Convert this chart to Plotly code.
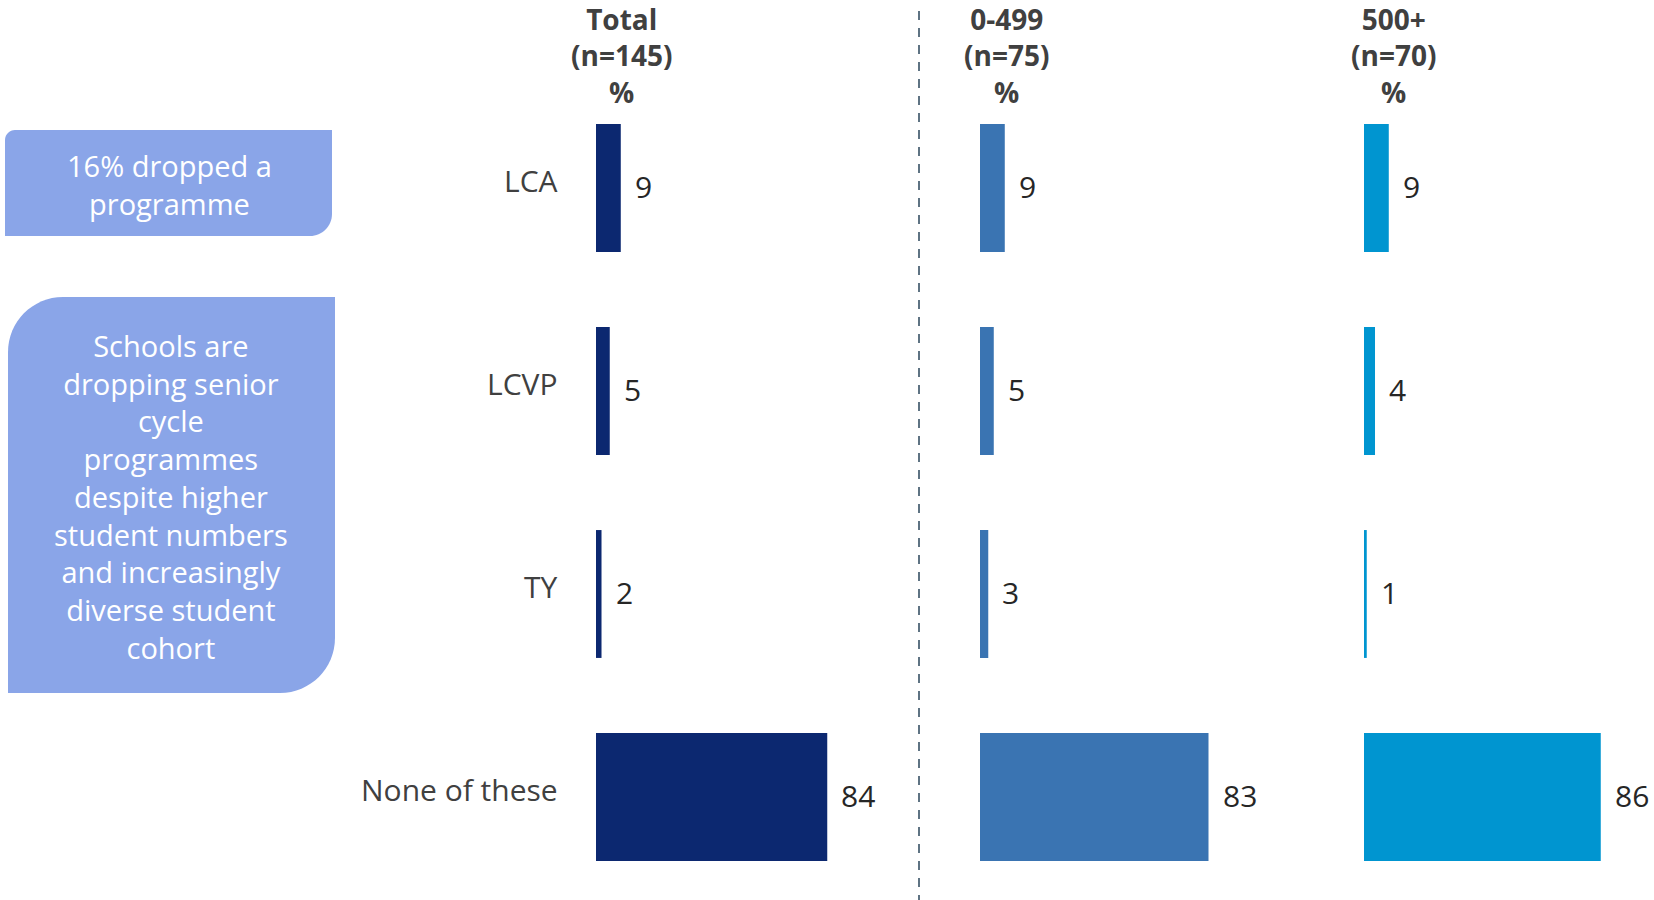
import plotly.graph_objects as go

# ---------------- data ----------------
categories = ["LCA", "LCVP", "TY", "None of these"]
total_vals = [9, 5, 2, 84]
small_vals = [9, 5, 3, 83]
large_vals = [9, 4, 1, 86]
panel_titles = ["Total<br>(n=145)<br>%", "0-499<br>(n=75)<br>%", "500+<br>(n=70)<br>%"]
box1_text = "16% dropped a<br>programme"
box2_text = ("Schools are<br>dropping senior<br>cycle<br>programmes<br>despite higher"
             "<br>student numbers<br>and increasingly<br>diverse student<br>cohort")

W, H = 1654, 900
FONT = "Open Sans"


def px(x):
    return x / W


def py(y):
    return 1 - y / H


series = [total_vals, small_vals, large_vals]
colors = ["#0c2870", "#3a74b2", "#0095d0"]
x_starts = [596, 980, 1364]
title_offsets = [25, 27, 29]
unit = 2.753
xmax = 100
y_dom = [py(898.5), py(86.5)]

fig = go.Figure()

for i, (vals, col, x0) in enumerate(zip(series, colors, x_starts)):
    xa = "x" if i == 0 else f"x{i+1}"
    fig.add_trace(go.Bar(
        x=vals, y=categories, orientation="h",
        marker=dict(color=col, line=dict(width=0)),
        xaxis=xa, yaxis="y", showlegend=False, hoverinfo="skip",
    ))
    for v, c in zip(vals, categories):
        fig.add_annotation(
            x=v, y=c, xref=xa, yref="y", text=str(v), showarrow=False,
            xanchor="left", yanchor="middle", xshift=12, yshift=2,
            font=dict(family=FONT, size=30, color="#262626"),
        )
    fig.add_annotation(
        x=px(x0 + title_offsets[i]), y=py(56), xref="paper", yref="paper",
        text=f"<b>{panel_titles[i]}</b>", showarrow=False,
        xanchor="center", yanchor="middle",
        font=dict(family=FONT, size=28, color="#404040"),
    )

# category labels
for c in categories:
    fig.add_annotation(
        x=px(560), y=c, xref="paper", yref="y", text=c, showarrow=False,
        xanchor="right", yanchor="middle", yshift=8,
        font=dict(family=FONT, size=30, color="#404040"),
    )

layout_axes = {}
for i, x0 in enumerate(x_starts):
    key = "xaxis" if i == 0 else f"xaxis{i+1}"
    layout_axes[key] = dict(
        domain=[px(x0), px(x0 + unit * xmax)], range=[0, xmax],
        visible=False, anchor="y", fixedrange=True,
    )

fig.update_layout(
    **layout_axes,
    yaxis=dict(
        domain=y_dom, range=[3.5, -0.5], type="category",
        showgrid=False, zeroline=False, showline=False, ticks="",
        showticklabels=False, anchor="x",
    ),
    bargap=0.37,
    width=W, height=H,
    margin=dict(l=0, r=0, t=0, b=0),
    paper_bgcolor="white", plot_bgcolor="rgba(0,0,0,0)",
)


def rounded_path(x0, y0, x1, y1, r_tl=0, r_tr=0, r_br=0, r_bl=0):
    k = 0.5523
    p = f"M{px(x0 + r_tl)},{py(y0)} L{px(x1 - r_tr)},{py(y0)} "
    if r_tr:
        p += (f"C{px(x1 - r_tr + k * r_tr)},{py(y0)} {px(x1)},{py(y0 + r_tr - k * r_tr)} "
              f"{px(x1)},{py(y0 + r_tr)} ")
    p += f"L{px(x1)},{py(y1 - r_br)} "
    if r_br:
        p += (f"C{px(x1)},{py(y1 - r_br + k * r_br)} {px(x1 - r_br + k * r_br)},{py(y1)} "
              f"{px(x1 - r_br)},{py(y1)} ")
    p += f"L{px(x0 + r_bl)},{py(y1)} "
    if r_bl:
        p += (f"C{px(x0 + r_bl - k * r_bl)},{py(y1)} {px(x0)},{py(y1 - r_bl + k * r_bl)} "
              f"{px(x0)},{py(y1 - r_bl)} ")
    p += f"L{px(x0)},{py(y0 + r_tl)} "
    if r_tl:
        p += (f"C{px(x0)},{py(y0 + r_tl - k * r_tl)} {px(x0 + r_tl - k * r_tl)},{py(y0)} "
              f"{px(x0 + r_tl)},{py(y0)} ")
    p += "Z"
    return p


box_color = "#8aa5e8"
fig.add_shape(type="path", xref="paper", yref="paper",
              path=rounded_path(5, 130, 332, 236, r_tl=10, r_br=22),
              fillcolor=box_color, line=dict(width=0), layer="below")
fig.add_shape(type="path", xref="paper", yref="paper",
              path=rounded_path(8, 297, 335, 693, r_tl=55, r_br=55),
              fillcolor=box_color, line=dict(width=0), layer="below")

fig.add_annotation(x=px(169), y=py(184), xref="paper", yref="paper",
                   text=box1_text, showarrow=False, xanchor="center", yanchor="middle",
                   font=dict(family=FONT, size=29, color="white"))
fig.add_annotation(x=px(171), y=py(496), xref="paper", yref="paper",
                   text=box2_text, showarrow=False, xanchor="center", yanchor="middle",
                   font=dict(family=FONT, size=29, color="white"))

# dashed separator
fig.add_shape(type="line", xref="paper", yref="paper",
              x0=px(919), x1=px(919), y0=py(11), y1=py(900),
              line=dict(color="#5e7383", width=2, dash="9px,8px"))

fig.write_html("out.html")
